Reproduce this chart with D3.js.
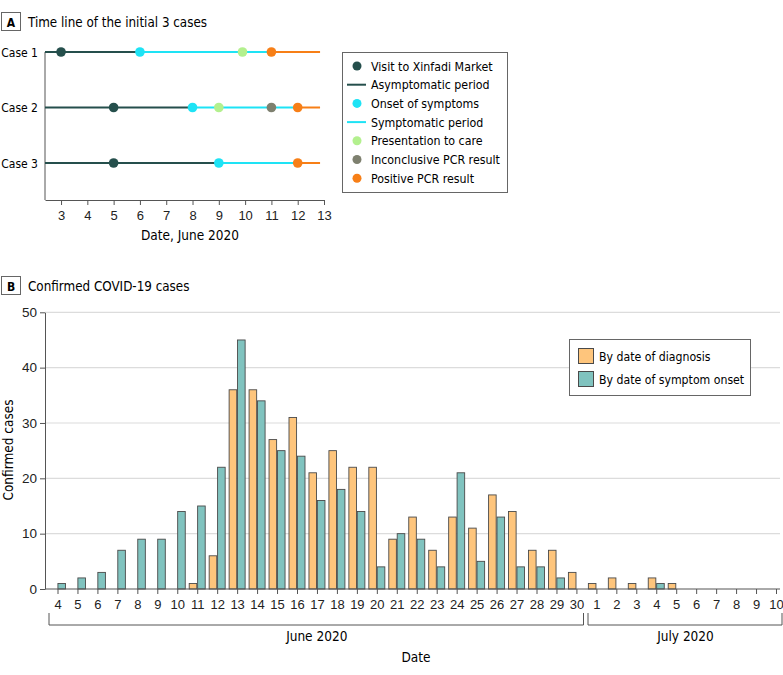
<!DOCTYPE html>
<html>
<head>
<meta charset="utf-8">
<script src="https://cdn.jsdelivr.net/npm/d3@7"></script>
<style>
  body { margin: 0; background: #fff; }
  svg { display: block; font-family: "Liberation Sans Narrow", "DejaVu Sans Condensed", sans-serif; }
</style>
</head>
<body>
<svg width="783" height="675"></svg>
<script>
// ---- Panel A data ----
const cases = ["Case 1", "Case 2", "Case 3"];
const visitDay   = [3, 5, 5];
const onsetDay   = [6, 8, 9];
const careDay    = [9.9, 9, null];
const inconclDay = [null, 11, null];
const positiveDay = [11, 12, 12];
const timelineEnd = 12.85;
const timelineTicks = [3, 4, 5, 6, 7, 8, 9, 10, 11, 12, 13];

// ---- Panel B data ----
const dates = ["4","5","6","7","8","9","10","11","12","13","14","15","16","17","18","19","20",
  "21","22","23","24","25","26","27","28","29","30",
  "1","2","3","4","5","6","7","8","9","10"];
const byDiagnosis = [0,0,0,0,0,0,0,1,6,36,36,27,31,21,25,22,22,9,13,7,13,11,17,14,7,7,3,
  1,2,1,2,1,0,0,0,0,0];
const byOnset = [1,2,3,7,9,9,14,15,22,45,34,25,24,16,18,14,4,10,9,4,21,5,13,4,4,2,0,
  0,0,0,1,0,0,0,0,0,0];
const seriesNames = ["By date of diagnosis", "By date of symptom onset"];
const yTicks = [0, 10, 20, 30, 40, 50];

const C = {
  visit: "#254f4c", onset: "#1ee3f5", care: "#b3f08e",
  incon: "#7e806f", positive: "#f77f17",
  diag: "#fec57c", onsetBar: "#80c3bf", axis: "#555"
};

const svg = d3.select("svg");

// panel label helper
function panelTitle(letter, text, y) {
  svg.append("rect").attr("x", 1.5).attr("y", y - 9.5).attr("width", 19).attr("height", 18)
    .attr("fill", "#fff").attr("stroke", "#666").attr("stroke-width", 1);
  svg.append("text").attr("x", 11).attr("y", y + 4.5).attr("text-anchor", "middle")
    .attr("font-size", 12).attr("font-weight", "bold").text(letter);
  svg.append("text").attr("x", 28).attr("y", y + 5).attr("font-size", 13.3).text(text);
}

// ================= Panel A =================
panelTitle("A", "Time line of the initial 3 cases", 22);

const xA = d3.scaleLinear().domain([2.39, 13]).range([45, 324]);
const yA = d3.scalePoint().domain(cases).range([52, 163]);

const gA = svg.append("g");
gA.append("g").attr("transform", "translate(0,200)")
  .call(d3.axisBottom(xA).tickValues(timelineTicks).tickSize(5).tickSizeOuter(0))
  .call(g => g.selectAll("text").attr("font-size", 13).attr("fill", "#222").attr("dy", "0.95em"))
  .call(g => g.selectAll("line,path").attr("stroke", C.axis));
gA.append("line").attr("x1", 45).attr("x2", 45).attr("y1", 52).attr("y2", 200).attr("stroke", C.axis);

gA.append("text").attr("x", xA(7.9)).attr("y", 240).attr("text-anchor", "middle")
  .attr("font-size", 13.5).text("Date, June 2020");

cases.forEach((c, i) => {
  const y = yA(c);
  gA.append("text").attr("x", 38).attr("y", y + 4.5).attr("text-anchor", "end")
    .attr("font-size", 12).text(c);
  const segs = [
    [xA.range()[0], xA(onsetDay[i]), C.visit],
    [xA(onsetDay[i]), xA(positiveDay[i]), C.onset],
    [xA(positiveDay[i]), xA(timelineEnd), C.positive]
  ];
  segs.forEach(s => gA.append("line").attr("x1", s[0]).attr("x2", s[1])
    .attr("y1", y).attr("y2", y).attr("stroke", s[2]).attr("stroke-width", 2));
  const pts = [
    [visitDay[i], C.visit], [onsetDay[i], C.onset], [careDay[i], C.care],
    [inconclDay[i], C.incon], [positiveDay[i], C.positive]
  ].filter(p => p[0] != null);
  gA.selectAll(null).data(pts).enter().append("circle")
    .attr("cx", d => xA(d[0])).attr("cy", y).attr("r", 4.8).attr("fill", d => d[1]);
});

// legend A
const legA = [
  {t: "Visit to Xinfadi Market", c: C.visit, k: "dot"},
  {t: "Asymptomatic period", c: C.visit, k: "line"},
  {t: "Onset of symptoms", c: C.onset, k: "dot"},
  {t: "Symptomatic period", c: C.onset, k: "line"},
  {t: "Presentation to care", c: C.care, k: "dot"},
  {t: "Inconclusive PCR result", c: C.incon, k: "dot"},
  {t: "Positive PCR result", c: C.positive, k: "dot"}
];
const gLA = svg.append("g");
gLA.append("rect").attr("x", 342.5).attr("y", 52.5).attr("width", 165).attr("height", 140)
  .attr("fill", "#fff").attr("stroke", "#666");
legA.forEach((d, i) => {
  const y = 66 + i * 18.7;
  if (d.k === "dot") gLA.append("circle").attr("cx", 357).attr("cy", y).attr("r", 4.5).attr("fill", d.c);
  else gLA.append("line").attr("x1", 347).attr("x2", 366).attr("y1", y).attr("y2", y)
    .attr("stroke", d.c).attr("stroke-width", 2);
  gLA.append("text").attr("x", 371).attr("y", y + 4.5).attr("font-size", 12.3).text(d.t);
});

// ================= Panel B =================
panelTitle("B", "Confirmed COVID-19 cases", 286);

const idx = dates.map((d, i) => i);
const xB = d3.scalePoint().domain(idx).range([57.5, 776]);
const xS = d3.scaleBand().domain([0, 1]).range([-8, 8]).paddingInner(0.1);
const yB = d3.scaleLinear().domain([0, 50]).range([589, 312.3]);

const gB = svg.append("g");
// grid
gB.selectAll(".grid").data(yTicks.slice(1)).enter().append("line")
  .attr("x1", 45).attr("x2", 780).attr("y1", d => yB(d)).attr("y2", d => yB(d))
  .attr("stroke", "#dcdcdc").attr("stroke-width", 1.2);

gB.append("g").attr("transform", "translate(45,0)")
  .call(d3.axisLeft(yB).tickValues(yTicks).tickSize(5).tickSizeOuter(0))
  .call(g => g.selectAll("text").attr("font-size", 13.5).attr("fill", "#222"))
  .call(g => g.selectAll("line,path").attr("stroke", C.axis));

gB.append("text").attr("transform", "translate(13,450) rotate(-90)")
  .attr("text-anchor", "middle").attr("font-size", 13.5).text("Confirmed cases");

const bars = [];
idx.forEach(i => {
  bars.push({i, s: 0, v: byDiagnosis[i]});
  bars.push({i, s: 1, v: byOnset[i]});
});
gB.selectAll(".bar").data(bars.filter(d => d.v > 0)).enter().append("rect")
  .attr("x", d => xB(d.i) + xS(d.s)).attr("width", xS.bandwidth())
  .attr("y", d => yB(d.v)).attr("height", d => yB(0) - yB(d.v))
  .attr("fill", d => d.s === 0 ? C.diag : C.onsetBar)
  .attr("stroke", "#4a4a4a").attr("stroke-width", 0.9);

gB.append("g").attr("transform", "translate(0,589)")
  .call(d3.axisBottom(xB).tickFormat(i => dates[i]).tickSize(5).tickSizeOuter(0))
  .call(g => g.select(".domain").attr("d", "M45,0H780"))
  .call(g => g.selectAll("text").attr("font-size", 13).attr("fill", "#222").attr("dy", "0.95em"))
  .call(g => g.selectAll("line,path").attr("stroke", C.axis));

// month brackets
const months = [
  {t: "June 2020", a: 49, b: 583.5},
  {t: "July 2020", a: 588, b: 782}
];
months.forEach(m => {
  gB.append("path").attr("d", `M${m.a},613V625H${m.b}V613`)
    .attr("fill", "none").attr("stroke", C.axis);
  gB.append("text").attr("x", (m.a + m.b) / 2 + 0.5).attr("y", 641).attr("text-anchor", "middle")
    .attr("font-size", 13.5).text(m.t);
});
gB.append("text").attr("x", 416).attr("y", 662).attr("text-anchor", "middle")
  .attr("font-size", 13.5).text("Date");

// legend B
const gLB = svg.append("g");
gLB.append("rect").attr("x", 569.5).attr("y", 339.5).attr("width", 181).attr("height", 56)
  .attr("fill", "#fff").attr("stroke", "#666");
seriesNames.forEach((n, i) => {
  const y = 348 + i * 23;
  gLB.append("rect").attr("x", 578.5).attr("y", y + 0.5).attr("width", 15).attr("height", 15)
    .attr("fill", i === 0 ? C.diag : C.onsetBar).attr("stroke", "#4a4a4a");
  gLB.append("text").attr("x", 599).attr("y", y + 12.5).attr("font-size", 12.2).text(n);
});
</script>
</body>
</html>
